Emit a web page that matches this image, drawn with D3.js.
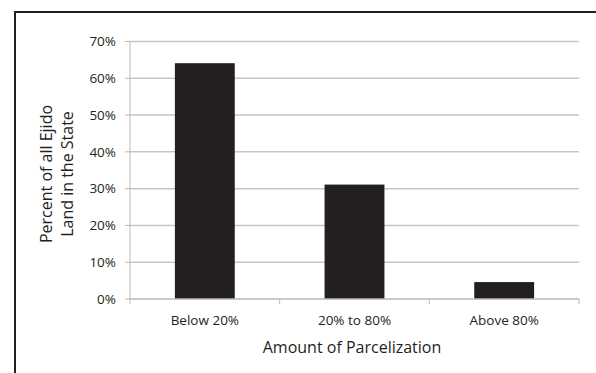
<!DOCTYPE html>
<html><head><meta charset="utf-8">
<script src="https://cdn.jsdelivr.net/npm/d3@7"></script>
<style>body{margin:0;background:#fff}svg{display:block}text{font-family:"Open Sans",sans-serif;fill:#231f20}</style>
</head><body><svg id="c" width="596" height="373"></svg>
<script>
const categories = ["Below 20%", "20% to 80%", "Above 80%"];
const values = [0.641, 0.311, 0.046];
const yTicks = [0, 0.1, 0.2, 0.3, 0.4, 0.5, 0.6, 0.7];
const xTitle = "Amount of Parcelization";
const yTitle = ["Percent of all Ejido", "Land in the State"];

const svg = d3.select("#c");
const m = {l:130, r:579, t:41.5, b:299};
const x = d3.scaleBand().domain(categories).range([m.l, m.r]).paddingInner(0.6).paddingOuter(0.3);
const xb = d3.scaleBand().domain(categories).range([m.l, m.r]);
const y = d3.scaleLinear().domain([0, 0.7]).range([m.b, m.t]);

// frame
svg.append("rect").attr("x",15).attr("y",12).attr("width",700).attr("height",500)
  .attr("fill","none").attr("stroke","#231f20").attr("stroke-width",2);

// gridlines
svg.append("g").selectAll("line").data(yTicks.filter(d=>d>0)).join("line")
  .attr("x1",m.l).attr("x2",m.r).attr("y1",d=>y(d)).attr("y2",d=>y(d))
  .attr("stroke","#c6c6c6").attr("stroke-width",1.5);

// y axis line & ticks
const ya = svg.append("g");
ya.append("line").attr("x1",m.l).attr("x2",m.l).attr("y1",m.t).attr("y2",m.b).attr("stroke","#b8b8b8").attr("stroke-width",1);
ya.selectAll("line.t").data(yTicks).join("line").attr("class","t")
  .attr("x1",m.l-5).attr("x2",m.l).attr("y1",d=>y(d)).attr("y2",d=>y(d)).attr("stroke","#b8b8b8");
ya.selectAll("text").data(yTicks).join("text")
  .attr("x",116).attr("y",d=>y(d)).attr("dy","0.35em").attr("text-anchor","end")
  .attr("font-size",13.5).text(d3.format(".0%"));

// bars
svg.append("g").selectAll("rect").data(values).join("rect")
  .attr("x",(d,i)=>x(categories[i])).attr("width",x.bandwidth())
  .attr("y",d=>y(d)).attr("height",d=>y(0)-y(d)).attr("fill","#231f20");

// x axis
const xa = svg.append("g");
xa.append("line").attr("x1",m.l).attr("x2",m.r).attr("y1",m.b).attr("y2",m.b).attr("stroke","#b8b8b8").attr("stroke-width",1.5);
const edges = categories.map(c=>xb(c)).concat([m.r]);
xa.selectAll("line.t").data(edges).join("line").attr("class","t")
  .attr("x1",d=>d).attr("x2",d=>d).attr("y1",m.b).attr("y2",m.b+5).attr("stroke","#b8b8b8");
xa.selectAll("text").data(categories).join("text")
  .attr("x",d=>xb(d)+xb.bandwidth()/2).attr("y",320).attr("dy","0.35em").attr("text-anchor","middle")
  .attr("font-size",13.5).text(d=>d);

svg.append("text").attr("x",352).attr("y",347).attr("dy","0.35em").attr("text-anchor","middle")
  .attr("font-size",16).text(xTitle);

const yt = svg.append("text").attr("transform","translate(46,174) rotate(-90)").attr("text-anchor","middle").attr("font-size",16);
yTitle.forEach((t,i)=>yt.append("tspan").attr("x",0).attr("y",i*21).attr("dy","0.35em").text(t));
</script></body></html>
